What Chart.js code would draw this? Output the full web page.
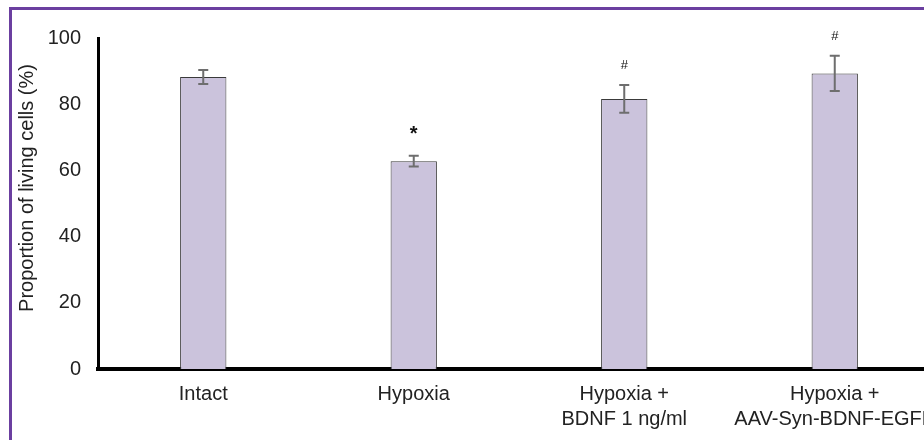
<!DOCTYPE html>
<html>
<head>
<meta charset="utf-8">
<script src="https://cdn.jsdelivr.net/npm/chart.js@4"></script>
<style>
  html, body { margin: 0; padding: 0; background: #fff; overflow: hidden; }
  #wrap { position: relative; width: 924px; height: 440px; overflow: hidden; }
  #frame { position: absolute; left: 9px; top: 7px; width: 960px; height: 480px;
           border-left: 3px solid #6b3fa0; border-top: 3px solid #6b3fa0; }
  canvas { position: absolute; left: 0; top: 0; }
</style>
</head>
<body>
<div id="wrap">
  <div id="frame"></div>
  <canvas id="cellChart" width="960" height="440"></canvas>
</div>
<script>
const groups = ['Intact', 'Hypoxia', ['Hypoxia +', 'BDNF 1 ng/ml'], ['Hypoxia +', 'AAV-Syn-BDNF-EGFP']];
const livingCells = [88.2, 62.8, 81.6, 89.3];
const errors = [2.1, 1.6, 4.2, 5.3];
const marks = ['', '*', '#', '#'];
const yTicks = [0, 20, 40, 60, 80, 100];
const yTitle = 'Proportion of living cells (%)';

const textColor = '#222';

// error bars + significance marks, drawn from the data via the y scale
const errorBars = {
  id: 'errorBars',
  afterDatasetsDraw(chart) {
    const ctx = chart.ctx;
    const y = chart.scales.y;
    chart.getDatasetMeta(0).data.forEach((bar, i) => {
      const top = y.getPixelForValue(livingCells[i] + errors[i]);
      const bottom = y.getPixelForValue(livingCells[i] - errors[i]);
      ctx.save();
      ctx.strokeStyle = '#6e6e6e';
      ctx.lineWidth = 2;
      ctx.beginPath();
      ctx.moveTo(bar.x, top); ctx.lineTo(bar.x, bottom);
      ctx.moveTo(bar.x - 5, top); ctx.lineTo(bar.x + 5, top);
      ctx.moveTo(bar.x - 5, bottom); ctx.lineTo(bar.x + 5, bottom);
      ctx.stroke();
      if (marks[i]) {
        ctx.fillStyle = '#111';
        ctx.textAlign = 'center';
        ctx.textBaseline = 'alphabetic';
        ctx.font = marks[i] === '*' ? 'bold 20px "Liberation Sans", Arial' : '13px "Liberation Sans", Arial';
        ctx.fillText(marks[i], bar.x, top - 16);
      }
      ctx.restore();
    });
  },
  afterDraw(chart) {
    const ctx = chart.ctx;
    ctx.save();
    ctx.translate(27, 188);
    ctx.rotate(-Math.PI / 2);
    ctx.fillStyle = textColor;
    ctx.font = '20px "Liberation Sans", Arial';
    ctx.textAlign = 'center';
    ctx.textBaseline = 'middle';
    ctx.fillText(yTitle, 0, 0);
    ctx.restore();
  }
};

const ctx = document.getElementById('cellChart').getContext('2d');

const cellChart = new Chart(ctx, {
  type: 'bar',
  data: {
    labels: groups,
    datasets: [{
      data: livingCells,
      backgroundColor: '#cbc3dc',
      borderColor: '#3a3a3a',
      borderWidth: 1,
      barPercentage: 0.22,
      categoryPercentage: 1
    }]
  },
  options: {
    responsive: false,
    animation: false,
    layout: { padding: { top: 38, right: 20, bottom: 0, left: 0 } },
    plugins: {
      legend: { display: false },
      tooltip: { enabled: false }
    },
    scales: {
      x: {
        grid: { display: false, drawTicks: false },
        border: { display: true, color: '#000', width: 4 },
        ticks: {
          color: textColor,
          font: { family: '"Liberation Sans", Arial', size: 20, lineHeight: 1.25 },
          padding: 13,
          maxRotation: 0,
          minRotation: 0,
          autoSkip: false
        },
        afterFit(scale) { scale.height = 71; }
      },
      y: {
        min: yTicks[0],
        max: yTicks[yTicks.length - 1],
        afterBuildTicks(scale) { scale.ticks = yTicks.map(v => ({ value: v })); },
        grid: { display: false, drawTicks: false },
        border: { display: true, color: '#000', width: 3 },
        ticks: {
          color: textColor,
          font: { family: '"Liberation Sans", Arial', size: 20 },
          padding: 17
        },
        afterFit(scale) { scale.width = 98; }
      }
    }
  },
  plugins: [errorBars]
});
</script>
</body>
</html>
